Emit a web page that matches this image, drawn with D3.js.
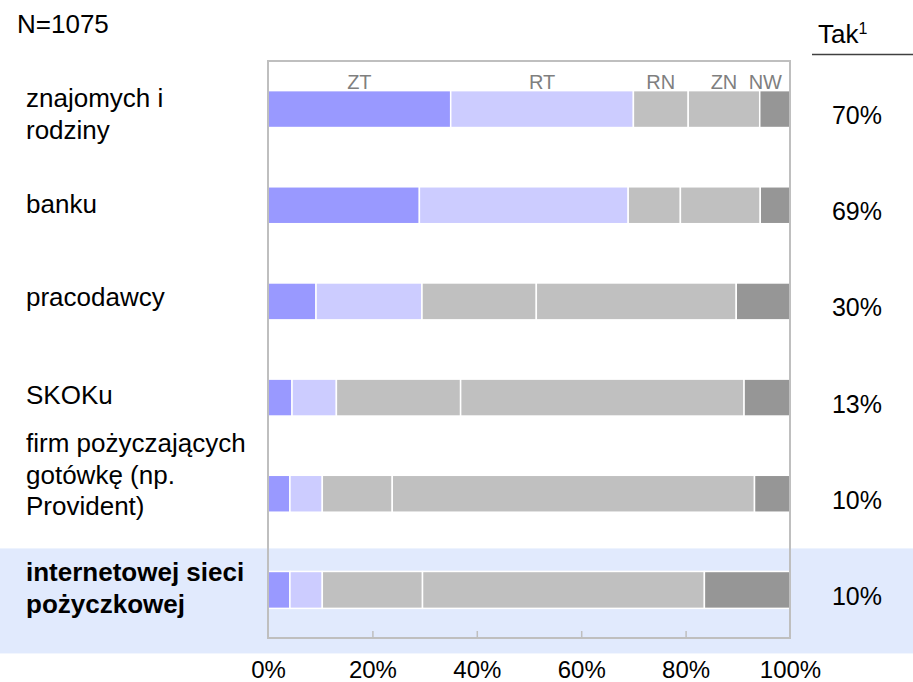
<!DOCTYPE html>
<html>
<head>
<meta charset="utf-8">
<script src="https://cdn.jsdelivr.net/npm/d3@7"></script>
<style>
  html, body { margin: 0; padding: 0; background: #ffffff; }
  svg { display: block; font-family: "Liberation Sans", Arial, sans-serif; }
</style>
</head>
<body>
<svg id="chart" width="913" height="682"></svg>
<script>
// ---- data ----
const categories = [
  ["znajomych i", "rodziny"],
  ["banku"],
  ["pracodawcy"],
  ["SKOKu"],
  ["firm pożyczających", "gotówkę (np.", "Provident)"],
  ["internetowej sieci", "pożyczkowej"]
];
const seriesNames = ["ZT", "RT", "RN", "ZN", "NW"];
const ZT = [35.0, 29.0, 9.2, 4.6, 4.2, 4.2];
const RT = [35.0, 40.0, 20.3, 8.5, 6.2, 6.2];
const RN = [10.5, 10.0, 21.9, 23.8, 13.4, 19.2];
const ZN = [13.7, 15.3, 38.3, 54.3, 69.4, 54.0];
const NW = [5.8, 5.7, 10.3, 8.8, 6.8, 16.4];
const takLabels = ["70%", "69%", "30%", "13%", "10%", "10%"];
const xTicks = [0, 20, 40, 60, 80, 100];
const sampleLabel = "N=1075";
const highlighted = 5;

// ---- layout / style ----
const colors = ["#9999FF", "#CCCCFF", "#C0C0C0", "#C0C0C0", "#969696"];
const labelOffsets = [-2, 8, 5, 6, -41.5, -8.5]; // first-line baseline offset from bar centre
const lineHeight = 31.5;
const frame = { left: 268, right: 790, top: 61, bottom: 638 };

const svg = d3.select("#chart");
const rows = categories.map((c, i) => ({
  i, lines: c,
  values: [ZT[i], RT[i], RN[i], ZN[i], NW[i]]
}));

const x = d3.scaleLinear().domain([0, 100]).range([frame.left, frame.right]);
const y = d3.scaleBand().domain(d3.range(categories.length))
  .range([frame.top, frame.bottom]).paddingInner(0.616).paddingOuter(0.308);
const bw = y.bandwidth();
const cy = i => y(i) + bw / 2;

// highlight band
svg.append("rect")
  .attr("x", 0).attr("width", 913)
  .attr("y", cy(highlighted) - 41.5).attr("height", 105)
  .attr("fill", "#E1EAFD");

// stacked bars
const stack = d3.stack().keys(d3.range(5)).value((d, k) => d.values[k]);
const stacked = stack(rows);
const g = svg.append("g");
stacked.forEach((layer, k) => {
  g.selectAll(null).data(layer).enter().append("rect")
    .attr("x", d => x(d[0]))
    .attr("width", d => Math.max(0, x(d[1]) - x(d[0])))
    .attr("y", (d, i) => y(i))
    .attr("height", bw)
    .attr("fill", colors[k])
    .attr("stroke", "#ffffff")
    .attr("stroke-width", 1.5);
});

// frame
svg.append("rect")
  .attr("x", frame.left).attr("y", frame.top)
  .attr("width", frame.right - frame.left).attr("height", frame.bottom - frame.top)
  .attr("fill", "none").attr("stroke", "#BFBFBF").attr("stroke-width", 2);

// axis
const axis = d3.axisBottom(x).tickValues(xTicks).tickFormat(d => d + "%").tickSize(-7).tickPadding(0);
const ag = svg.append("g").attr("transform", `translate(0,${frame.bottom})`).call(axis);
ag.select(".domain").remove();
ag.selectAll(".tick line").attr("stroke", "#BFBFBF").attr("stroke-width", 1.5)
  .attr("display", d => (d === 0 || d === 100) ? "none" : null);
ag.selectAll(".tick text").attr("y", 40).attr("dy", 0)
  .attr("font-size", 24).attr("fill", "#000000")
  .attr("font-family", "'Liberation Sans', Arial, sans-serif");

// series header labels above first bar
const first = stacked.map(layer => layer[0]);
seriesNames.forEach((name, k) => {
  const t = svg.append("text")
    .attr("y", y(0) - 2)
    .attr("text-anchor", "middle")
    .attr("font-size", 20)
    .attr("fill", "#7F7F7F")
    .text(name);
  let cx = (x(first[k][0]) + x(first[k][1])) / 2;
  const w = t.node().getComputedTextLength();
  if (cx + w / 2 > frame.right - 8) cx = frame.right - 8 - w / 2;
  t.attr("x", cx);
});

// category labels
rows.forEach(r => {
  const t = svg.append("text")
    .attr("x", 26)
    .attr("y", cy(r.i) + labelOffsets[r.i])
    .attr("font-size", 26)
    .attr("font-weight", r.i === highlighted ? "bold" : "normal")
    .attr("fill", "#000000");
  r.lines.forEach((ln, j) => {
    t.append("tspan").attr("x", 26).attr("dy", j === 0 ? 0 : lineHeight).text(ln);
  });
});

// Tak values
svg.selectAll(".tak").data(takLabels).enter().append("text")
  .attr("class", "tak")
  .attr("x", 857)
  .attr("y", (d, i) => cy(i) + 15)
  .attr("text-anchor", "middle")
  .attr("font-size", 25)
  .attr("fill", "#000000")
  .text(d => d);

// Tak header
const th = svg.append("text").attr("x", 818).attr("y", 43).attr("font-size", 26).attr("fill", "#000000");
th.append("tspan").text("Tak");
th.append("tspan").attr("font-size", 16).attr("dy", -9).text("1");
svg.append("line").attr("x1", 812).attr("x2", 913).attr("y1", 54.5).attr("y2", 54.5)
  .attr("stroke", "#404040").attr("stroke-width", 1.5);

// sample size
svg.append("text").attr("x", 17).attr("y", 33).attr("font-size", 26).attr("fill", "#000000").text(sampleLabel);
</script>
</body>
</html>
